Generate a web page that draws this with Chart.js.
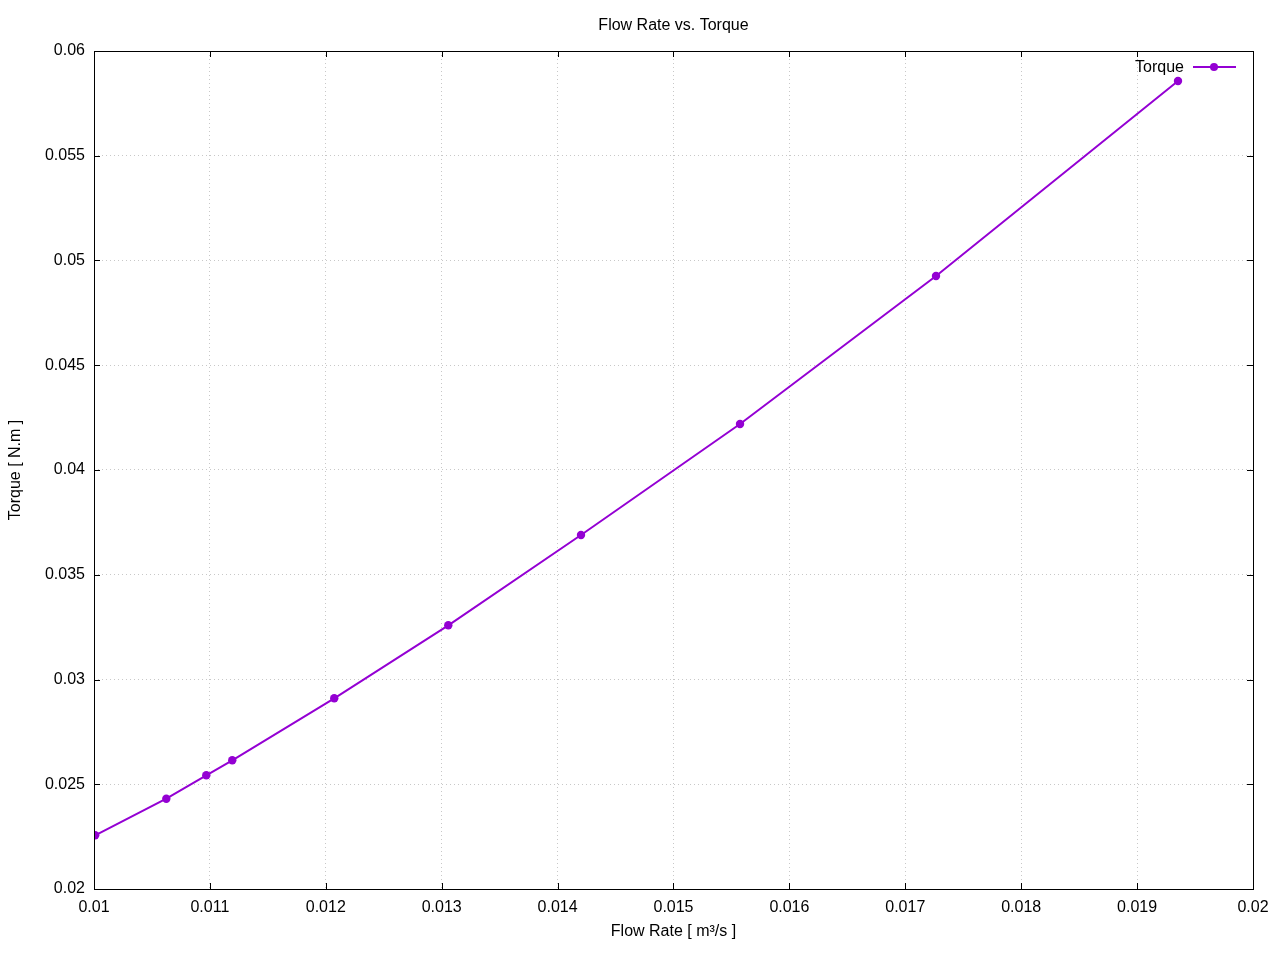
<!DOCTYPE html>
<html>
<head>
<meta charset="utf-8">
<script src="https://cdn.jsdelivr.net/npm/chart.js@4"></script>
<style>
  html, body { margin: 0; padding: 0; background: #fff; }
  canvas { display: block; }
</style>
</head>
<body>
<canvas id="torqueChart" width="1280" height="960"></canvas>
<script>
// values
var flowRate = [0.01001, 0.010624, 0.010969, 0.011193, 0.012073, 0.013057, 0.014202, 0.015574, 0.017265, 0.019353];
var torque = [0.022563, 0.02431, 0.025427, 0.026143, 0.029103, 0.032587, 0.036897, 0.042196, 0.04926, 0.05857];
var xTicks = [0.01, 0.011, 0.012, 0.013, 0.014, 0.015, 0.016, 0.017, 0.018, 0.019, 0.02];
var yTicks = [0.02, 0.025, 0.03, 0.035, 0.04, 0.045, 0.05, 0.055, 0.06];

var lineColor = '#9400d3';
var fontFamily = '"Liberation Sans", Arial, sans-serif';
var fontSize = 16;

var points = flowRate.map(function(x, i) { return { x: x, y: torque[i] }; });

// box round the plot with inward ticks on all four sides, title over the plot
var frame = {
    id: 'frame',
    afterDraw: function(chart) {
        var ctx = chart.ctx, a = chart.chartArea;
        var xs = chart.scales.x, ys = chart.scales.y;
        ctx.save();
        ctx.strokeStyle = '#000';
        ctx.lineWidth = 1;
        ctx.strokeRect(a.left + 0.5, a.top + 0.5, a.right - a.left, a.bottom - a.top);
        ctx.beginPath();
        xTicks.forEach(function(v) {
            var px = Math.round(xs.getPixelForValue(v)) + 0.5;
            ctx.moveTo(px, a.bottom); ctx.lineTo(px, a.bottom - 6);
            ctx.moveTo(px, a.top); ctx.lineTo(px, a.top + 6);
        });
        yTicks.forEach(function(v) {
            var py = Math.round(ys.getPixelForValue(v)) + 0.5;
            ctx.moveTo(a.left, py); ctx.lineTo(a.left + 6, py);
            ctx.moveTo(a.right, py); ctx.lineTo(a.right - 6, py);
        });
        ctx.stroke();

        ctx.font = fontSize + 'px ' + fontFamily;
        ctx.fillStyle = '#000';
        ctx.textAlign = 'center';
        ctx.textBaseline = 'middle';
        ctx.fillText('Flow Rate vs. Torque', (a.left + a.right) / 2, 26);
        ctx.restore();
    }
};

// gnuplot style key in the top right corner
var key = {
    id: 'key',
    afterDraw: function(chart) {
        var ctx = chart.ctx, a = chart.chartArea;
        var ds = chart.data.datasets[0];
        var y = a.top + 16;
        ctx.save();
        ctx.font = fontSize + 'px ' + fontFamily;
        ctx.fillStyle = '#000';
        ctx.textAlign = 'right';
        ctx.textBaseline = 'middle';
        ctx.fillText(ds.label, a.right - 69, y + 1);
        ctx.strokeStyle = lineColor;
        ctx.lineWidth = 2;
        ctx.beginPath();
        ctx.moveTo(a.right - 60, y);
        ctx.lineTo(a.right - 17, y);
        ctx.stroke();
        ctx.fillStyle = lineColor;
        ctx.beginPath();
        ctx.arc(a.right - 39, y, 4, 0, Math.PI * 2);
        ctx.fill();
        ctx.restore();
    }
};

var ctx = document.getElementById('torqueChart').getContext('2d');
var myChart = new Chart(ctx, {
    type: 'scatter',
    data: {
        datasets: [{
            label: 'Torque',
            data: points,
            showLine: true,
            borderColor: lineColor,
            backgroundColor: lineColor,
            borderWidth: 2,
            pointRadius: 4.2,
            pointHoverRadius: 4.2,
            pointBorderWidth: 0
        }]
    },
    options: {
        responsive: false,
        animation: false,
        layout: { padding: { left: 0, right: 27, top: 51, bottom: 0 } },
        plugins: {
            legend: { display: false },
            tooltip: { enabled: false },
            title: { display: false }
        },
        scales: {
            x: {
                type: 'linear',
                min: 0.01,
                max: 0.02,
                afterFit: function(s) { s.height = 71; },
                afterBuildTicks: function(s) { s.ticks = xTicks.map(function(v) { return { value: v }; }); },
                ticks: {
                    color: '#000',
                    padding: 9,
                    maxRotation: 0,
                    font: { family: fontFamily, size: fontSize },
                    callback: function(v) { return String(+v.toFixed(4)); }
                },
                grid: { color: '#c8c8c8', drawTicks: false },
                border: { display: false, dash: [1, 3] },
                title: {
                    display: true,
                    text: 'Flow Rate [ m³/s ]',
                    color: '#000',
                    font: { family: fontFamily, size: fontSize },
                    padding: { top: 0, bottom: 19 }
                }
            },
            y: {
                type: 'linear',
                min: 0.02,
                max: 0.06,
                afterFit: function(s) { s.width = 94; },
                afterBuildTicks: function(s) { s.ticks = yTicks.map(function(v) { return { value: v }; }); },
                ticks: {
                    color: '#000',
                    padding: 9,
                    font: { family: fontFamily, size: fontSize },
                    callback: function(v) { return String(+v.toFixed(4)); }
                },
                grid: { color: '#c8c8c8', drawTicks: false },
                border: { display: false, dash: [1, 3] },
                title: {
                    display: true,
                    text: 'Torque [ N.m ]',
                    color: '#000',
                    font: { family: fontFamily, size: fontSize },
                    padding: { top: 6, bottom: 6 }
                }
            }
        }
    },
    plugins: [frame, key]
});
</script>
</body>
</html>
